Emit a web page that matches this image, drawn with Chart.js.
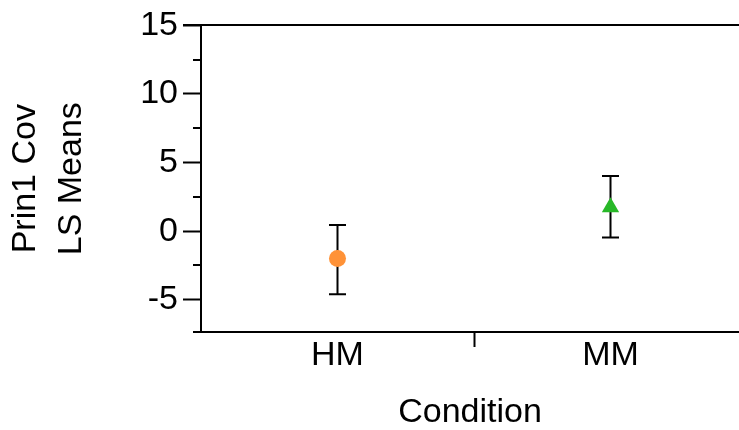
<!DOCTYPE html>
<html>
<head>
<meta charset="utf-8">
<script src="https://cdn.jsdelivr.net/npm/chart.js@4.4.1/dist/chart.umd.min.js"></script>
<style>
  html, body { margin: 0; padding: 0; background: #fff; }
  #wrap { width: 739px; height: 430px; }
</style>
</head>
<body>
<div id="wrap"><canvas id="grafica" width="739" height="430"></canvas></div>
<script>
const conditions = ['HM', 'MM'];
const lsMeans = [-2.0, 1.75];
const lowerCL = [-4.6, -0.47];
const upperCL = [0.45, 4.03];
const markerStyles = ['circle', 'triangle'];
const markerColors = ['#FF9237', '#28B828'];

const yMin = -7.35;
const yMax = 15;
const yMajorTicks = [-5, 0, 5, 10, 15];
const yMinorTicks = [-2.5, 2.5, 7.5, 12.5];

const font = { family: "'Liberation Sans', Arial, sans-serif", size: 34 };

// frame lines that the scales don't draw: minor ticks, top rule, left stub of the x axis
const frame = {
    id: 'frame',
    afterDraw(chart) {
        const { ctx, chartArea, scales } = chart;
        const y = scales.y;
        ctx.save();
        ctx.strokeStyle = '#000';
        ctx.lineWidth = 2;
        ctx.beginPath();
        yMinorTicks.forEach(v => {
            const py = Math.round(y.getPixelForValue(v));
            ctx.moveTo(chartArea.left - 8, py);
            ctx.lineTo(chartArea.left, py);
        });
        const top = Math.round(y.getPixelForValue(yMax));
        ctx.moveTo(chartArea.left - 18, top);
        ctx.lineTo(chartArea.right, top);
        const bottom = Math.round(chartArea.bottom);
        ctx.moveTo(chartArea.left - 8, bottom);
        ctx.lineTo(chartArea.left, bottom);
        ctx.stroke();
        ctx.restore();
    }
};

const init = () => {
    Chart.defaults.color = '#000';
    Chart.defaults.font.family = font.family;

    const means = {
        type: 'scatter',
        label: 'LS Means',
        data: conditions.map((c, i) => ({ x: i + 0.5, y: lsMeans[i] })),
        pointStyle: markerStyles,
        backgroundColor: markerColors,
        pointRadius: [8.5, 10],
        pointHoverRadius: [8.5, 10],
        borderWidth: 0,
        order: 0
    };

    const errorBars = conditions.map((c, i) => ({
        type: 'line',
        label: c,
        data: [{ x: i + 0.5, y: lowerCL[i] }, { x: i + 0.5, y: upperCL[i] }],
        borderColor: '#000',
        borderWidth: 2,
        pointStyle: 'line',
        pointRadius: 8.5,
        pointHoverRadius: 8.5,
        pointBorderColor: '#000',
        pointBorderWidth: 2,
        order: 1
    }));

    const chartCanva = document.getElementById('grafica').getContext('2d');
    new Chart(chartCanva, {
        type: 'scatter',
        data: { datasets: [means, ...errorBars] },
        plugins: [frame],
        options: {
            responsive: false,
            animation: false,
            layout: {
                autoPadding: false,
                padding: { top: 25, right: 0, bottom: 0, left: 0 }
            },
            plugins: { legend: { display: false }, tooltip: { enabled: false } },
            scales: {
                x: {
                    type: 'linear',
                    min: 0,
                    max: 538 / 273,
                    afterBuildTicks: scale => {
                        scale.ticks = [0.5, 1, 1.5].map(v => ({ value: v }));
                    },
                    afterFit: scale => {
                        scale.height = 98;
                        scale.paddingLeft = 0;
                        scale.paddingRight = 0;
                    },
                    ticks: {
                        autoSkip: false,
                        maxRotation: 0,
                        padding: -12,
                        font: font,
                        callback: v => (v === 0.5 ? conditions[0] : v === 1.5 ? conditions[1] : '')
                    },
                    grid: {
                        drawOnChartArea: false,
                        tickLength: 15,
                        tickWidth: 2,
                        tickColor: ctx => (ctx.tick && ctx.tick.value === 1 ? '#000' : 'rgba(0,0,0,0)')
                    },
                    border: { color: '#000', width: 2 },
                    title: {
                        display: true,
                        text: 'Condition',
                        font: font,
                        padding: { top: 0, bottom: -3 }
                    }
                },
                y: {
                    min: yMin,
                    max: yMax,
                    afterBuildTicks: scale => {
                        scale.ticks = yMajorTicks.map(v => ({ value: v }));
                    },
                    afterFit: scale => { scale.width = 201; },
                    ticks: { padding: 5, font: font },
                    grid: {
                        drawOnChartArea: false,
                        tickLength: 18,
                        tickWidth: 2,
                        tickColor: '#000'
                    },
                    border: { color: '#000', width: 2 },
                    title: {
                        display: true,
                        text: ['Prin1 Cov', 'LS Means'],
                        font: { family: font.family, size: 34, lineHeight: 1.34 },
                        padding: { top: 3, bottom: 0 }
                    }
                }
            }
        }
    });
};

document.addEventListener('DOMContentLoaded', () => {
    init();
});
</script>
</body>
</html>
